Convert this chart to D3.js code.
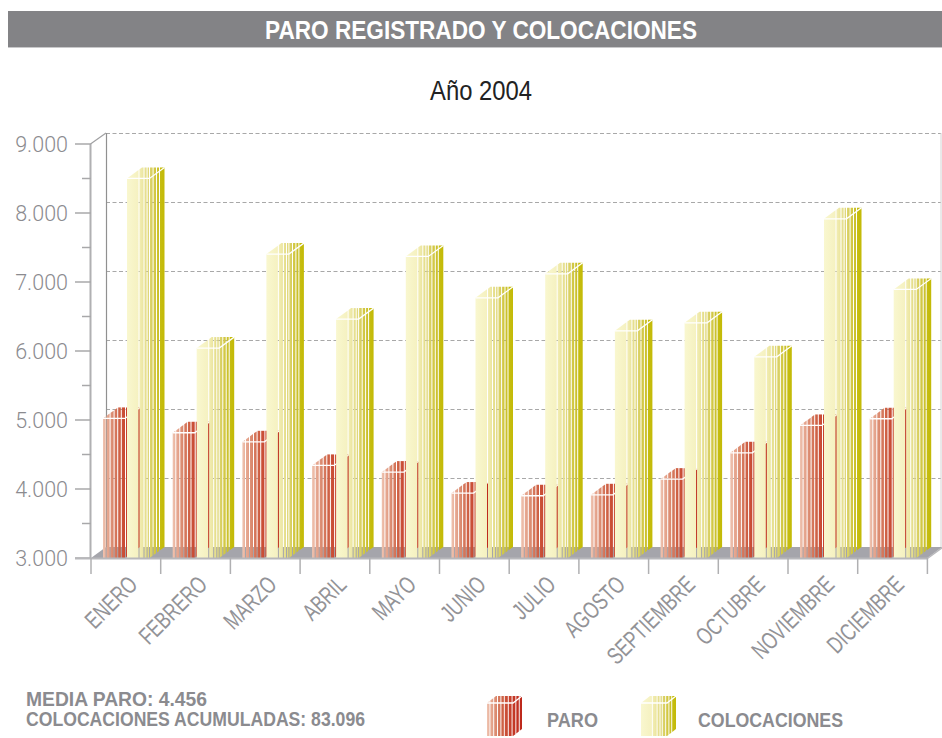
<!DOCTYPE html>
<html>
<head>
<meta charset="utf-8">
<script src="https://cdn.jsdelivr.net/npm/d3@7"></script>
<style>
  html, body { margin: 0; padding: 0; background: #fff; }
  svg { display: block; }
</style>
</head>
<body>
<svg id="chart" width="942" height="738"></svg>
<script>
// data
const months = ["ENERO", "FEBRERO", "MARZO", "ABRIL", "MAYO", "JUNIO",
  "JULIO", "AGOSTO", "SEPTIEMBRE", "OCTUBRE", "NOVIEMBRE", "DICIEMBRE"];
const paro = [5023, 4815, 4684, 4342, 4245, 3941, 3902, 3916, 4143, 4525, 4921, 5018];
const colocaciones = [8501, 6042, 7404, 6462, 7371, 6771, 7119, 6293, 6409, 5916, 7916, 6892];
const yTicks = [3000, 4000, 5000, 6000, 7000, 8000, 9000];
const yMinorTicks = [3500, 4500, 5500, 6500, 7500, 8500];
const seriesNames = ["PARO", "COLOCACIONES"];

const es = d3.formatLocale({ decimal: ",", thousands: ".", grouping: [3], currency: ["", "€"] });
const fmt = es.format(",d");

// condensed look: Liberation Sans squeezed with textLength / scaleX
const sans = "'Liberation Sans', Arimo, Arial, sans-serif";
const GREY_TXT = "#8b8b8f";

const svg = d3.select("#chart");
const defs = svg.append("defs");

// 3d depth of the plot
const DX = 15, DY = 11;
const x = d3.scaleBand().domain(months).range([91, 927.4]).paddingInner(0).paddingOuter(0);
const y = d3.scaleLinear().domain([3000, 9000]).range([558, 144]);
const xLeft = 91, xRight = 927.4, yFloor = y(3000);

// stripe layouts (relative px from box left, over w + dx)
const redStrips = [
  [0, 2.6, "#efc3b0", "#e9b39e"], [3.6, 6.6, "#e7aa93", "#e29e86"], [7.6, 10.6, "#de9278", "#d9866b"],
  [11.6, 14.2, "#d77c61", "#d37054"], [15.2, 17.8, "#d06649", "#cd5c41"], [18.8, 22, "#cb533a", "#c84a33"],
  [23, 26, "#c8432f", "#c63e2b"], [27, 30, "#c43a27", "#c23524"], [31, 33.6, "#c23122", "#c02e20"],
  [34.6, 37, "#bf2b1d", "#bd281b"]
];
const yellowStrips = [
  [0, 11.5, "#f9f7cf", "#f5f1c0"], [12.5, 16.5, "#f2edb4", "#ebe59e"], [17.5, 19.6, "#e8e294", "#e4dc88"],
  [20.6, 22, "#e2da80", "#ded676"], [23, 25.6, "#dcd36c", "#d7ce5c"], [26.6, 29, "#d4ca4a", "#d0c63e"],
  [30, 32, "#ccc232", "#c9c026"], [33, 37.5, "#c6bd12", "#c3ba06"]
];

function addGrad(id, c0, c1) {
  const g = defs.append("linearGradient").attr("id", id)
    .attr("x1", "0%").attr("x2", "100%").attr("y1", "0%").attr("y2", "0%");
  g.append("stop").attr("offset", "0%").attr("stop-color", c0);
  g.append("stop").attr("offset", "100%").attr("stop-color", c1);
}
redStrips.forEach((s, i) => addGrad("gr" + i, s[2], s[3]));
yellowStrips.forEach((s, i) => addGrad("gy" + i, s[2], s[3]));

// polygon of the part of a 3d box between relative x a..b
function stripPoints(x0, yT, yF, w, dx, dy, a, b) {
  const top = r => yT - dy * Math.min(r, dx) / dx;
  const bot = r => r <= w ? yF : yF - dy * (r - w) / dx;
  const rs = [a, b, dx, w].filter(r => r >= a && r <= b).sort((p, q) => p - q);
  const uniq = rs.filter((r, i) => i === 0 || r !== rs[i - 1]);
  const pts = uniq.map(r => [x0 + r, top(r)]).concat(uniq.slice().reverse().map(r => [x0 + r, bot(r)]));
  return pts.map(p => p.join(",")).join(" ");
}

function drawBox(g, x0, yT, yF, w, dx, dy, strips, prefix, scale) {
  const k = scale || 1;
  strips.forEach((s, i) => {
    g.append("polygon")
      .attr("points", stripPoints(x0, yT, yF, w, dx, dy, s[0] * k, Math.min(s[1] * k, w + dx)))
      .attr("fill", `url(#${prefix}${i})`);
  });
  g.append("path")
    .attr("d", `M${x0},${yT}H${x0 + w}L${x0 + w + dx},${yT - dy}`)
    .attr("fill", "none").attr("stroke", "#fff").attr("stroke-width", 1.3);
}

// title bar
svg.append("rect").attr("x", 8).attr("y", 11).attr("width", 934).attr("height", 36).attr("fill", "#838386");
svg.append("line").attr("x1", 8).attr("x2", 942).attr("y1", 47.5).attr("y2", 47.5)
  .attr("stroke", "#c8c8ca").attr("stroke-width", 1);
svg.append("text").attr("x", 481).attr("y", 38.5).attr("text-anchor", "middle")
  .attr("font-family", sans).attr("font-weight", "bold").attr("font-size", 25.5)
  .attr("fill", "#fff").attr("textLength", 432).attr("lengthAdjust", "spacingAndGlyphs")
  .text("PARO REGISTRADO Y COLOCACIONES");

svg.append("text").attr("x", 481).attr("y", 100).attr("text-anchor", "middle")
  .attr("font-family", sans).attr("font-size", 27).attr("fill", "#222")
  .attr("textLength", 102).attr("lengthAdjust", "spacingAndGlyphs")
  .text("Año 2004");

// back gridlines
const grid = svg.append("g");
grid.selectAll("line").data(yTicks.filter(d => d > 3000)).join("line")
  .attr("x1", xLeft + DX).attr("x2", 941)
  .attr("y1", d => y(d) - DY + 0.5).attr("y2", d => y(d) - DY + 0.5)
  .attr("stroke", "#a8a8a8").attr("stroke-width", 1.2).attr("stroke-dasharray", "4,2.5");
grid.append("line").attr("x1", xLeft + DX + 0.5).attr("x2", xLeft + DX + 0.5)
  .attr("y1", y(9000) - DY).attr("y2", yFloor - DY).attr("stroke", "#909090").attr("stroke-width", 1.2);
grid.append("line").attr("x1", 941).attr("x2", 941)
  .attr("y1", y(9000) - DY).attr("y2", yFloor - DY).attr("stroke", "#d4d4d4").attr("stroke-width", 1);

// floor
svg.append("polygon")
  .attr("points", [[xLeft, yFloor], [xRight, yFloor], [xRight + DX, yFloor - DY], [xLeft + DX, yFloor - DY]]
    .map(p => p.join(",")).join(" "))
  .attr("fill", "#a5a5ab");

// bars
const bars = svg.append("g");
months.forEach((m, i) => {
  const cx = x(m);
  const gi = bars.append("g");
  drawBox(gi, cx + 12, y(paro[i]), yFloor, 22, DX, DY, redStrips, "gr");
  drawBox(gi, cx + 36, y(colocaciones[i]), yFloor, 22.5, DX, DY, yellowStrips, "gy");
});

// y axis
const ya = svg.append("g");
ya.append("line").attr("x1", xLeft - 0.5).attr("x2", xLeft - 0.5).attr("y1", y(9000)).attr("y2", yFloor)
  .attr("stroke", "#b0b0b2").attr("stroke-width", 2);
ya.append("line").attr("x1", xLeft - 0.5).attr("x2", xLeft + DX).attr("y1", y(9000)).attr("y2", y(9000) - DY)
  .attr("stroke", "#a0a0a2").attr("stroke-width", 1.2);
ya.selectAll(".maj").data(yTicks).join("line").attr("class", "maj")
  .attr("x1", 75).attr("x2", xLeft).attr("y1", d => y(d)).attr("y2", d => y(d))
  .attr("stroke", "#a8a8aa").attr("stroke-width", 1.5);
ya.selectAll(".min").data(yMinorTicks).join("line").attr("class", "min")
  .attr("x1", 82).attr("x2", xLeft).attr("y1", d => y(d)).attr("y2", d => y(d))
  .attr("stroke", "#a8a8aa").attr("stroke-width", 1.5);
ya.selectAll("text").data(yTicks).join("text")
  .attr("x", 68).attr("y", d => y(d) + 8).attr("text-anchor", "end")
  .attr("font-family", "Roboto, 'Liberation Sans', sans-serif").attr("font-weight", 300)
  .attr("font-size", 21.5).attr("fill", GREY_TXT)
  .text(d => fmt(d));

// x axis
const xa = svg.append("g");
xa.append("line").attr("x1", 75).attr("x2", xRight).attr("y1", yFloor + 0.5).attr("y2", yFloor + 0.5)
  .attr("stroke", "#b8b8bb").attr("stroke-width", 2);
xa.append("line").attr("x1", xRight).attr("x2", xRight + DX).attr("y1", yFloor + 0.5).attr("y2", yFloor - DY + 0.5)
  .attr("stroke", "#b8b8bb").attr("stroke-width", 1.5);
xa.selectAll(".tk").data(months.map(m => x(m)).concat([xRight])).join("line").attr("class", "tk")
  .attr("x1", d => d).attr("x2", d => d).attr("y1", yFloor).attr("y2", yFloor + 16)
  .attr("stroke", "#b0b0b2").attr("stroke-width", 1.5);
xa.selectAll("text").data(months).join("text")
  .attr("transform", d => `translate(${x(d) + x.bandwidth() / 2 + 13},${yFloor + 28}) rotate(-45) scale(0.73,1)`)
  .attr("text-anchor", "end")
  .attr("font-family", sans).attr("font-size", 24).attr("fill", "#939397")
  .text(d => d);

// summary text
const summary = svg.append("g").attr("font-family", sans).attr("font-weight", "bold")
  .attr("font-size", 20).attr("fill", GREY_TXT);
summary.append("text").attr("x", 26).attr("y", 706)
  .attr("textLength", 181).attr("lengthAdjust", "spacingAndGlyphs")
  .text("MEDIA PARO: " + fmt(Math.round(d3.mean(paro))));
summary.append("text").attr("x", 26).attr("y", 726)
  .attr("textLength", 339).attr("lengthAdjust", "spacingAndGlyphs")
  .text("COLOCACIONES ACUMULADAS: " + fmt(d3.sum(colocaciones)));

// legend
const legend = svg.append("g");
const legendItems = [
  { name: seriesNames[0], x0: 487, strips: redStrips, prefix: "gr", tx: 547, tw: 51 },
  { name: seriesNames[1], x0: 641, strips: yellowStrips, prefix: "gy", tx: 698, tw: 145 }
];
legendItems.forEach(d => {
  const gl = legend.append("g");
  drawBox(gl, d.x0, 703, 736, 26, 9, 7, d.strips, d.prefix, 35 / 37);
  legend.append("text").attr("x", d.tx).attr("y", 727)
    .attr("font-family", sans).attr("font-weight", "bold").attr("font-size", 20.5)
    .attr("fill", GREY_TXT).attr("textLength", d.tw).attr("lengthAdjust", "spacingAndGlyphs")
    .text(d.name);
});
</script>
</body>
</html>
